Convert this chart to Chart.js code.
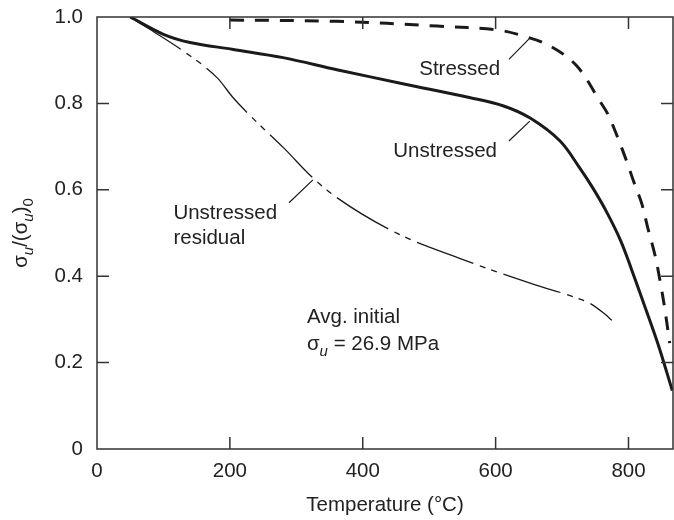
<!DOCTYPE html>
<html>
<head>
<meta charset="utf-8">
<title>Strength vs temperature</title>
<script src="https://cdn.jsdelivr.net/npm/chart.js@4"></script>
<style>
  html, body { margin: 0; padding: 0; background: #fff; }
  #wrap { width: 674px; height: 520px; }
</style>
</head>
<body>
<div id="wrap"><canvas id="chart" width="674" height="520"></canvas></div>
<script>
// ---- data ----
const unstressedT   = [50, 100, 140, 205, 280, 361, 462, 562, 612, 652, 697, 726, 746, 767, 788, 805, 825, 845, 866];
const unstressedVal = [1.0, 0.96, 0.941, 0.925, 0.906, 0.878, 0.845, 0.813, 0.794, 0.766, 0.713, 0.652, 0.605, 0.549, 0.483, 0.414, 0.328, 0.24, 0.135];

const stressedT   = [200, 361, 512, 602, 642, 682, 722, 757, 769, 784, 797, 809, 820, 829, 840, 848, 855, 862];
const stressedVal = [0.993, 0.99, 0.979, 0.970, 0.956, 0.933, 0.887, 0.805, 0.775, 0.72, 0.667, 0.614, 0.568, 0.512, 0.448, 0.385, 0.321, 0.245];

const residualT   = [50, 80, 130, 181, 205, 231, 281, 326, 361, 452, 552, 587, 662, 712, 742, 763, 775];
const residualVal = [1.0, 0.971, 0.921, 0.859, 0.813, 0.771, 0.697, 0.626, 0.582, 0.499, 0.438, 0.418, 0.379, 0.355, 0.337, 0.314, 0.298];

const xTicks = [0, 200, 400, 600, 800];
const yTicks = [0, 0.2, 0.4, 0.6, 0.8, 1.0];

const FONT = '"Liberation Sans", Arial, sans-serif';
const INK = '#1a1a1a';
const TXT = '#222';

function pts(xs, ys) {
  return xs.map((x, i) => ({ x: x, y: ys[i] }));
}

// labels and leader lines, placed in data units
const notes = [
  { text: 'Stressed',   x: 485, y: 0.879 },
  { text: 'Unstressed', x: 446, y: 0.688 },
  { text: 'Unstressed', x: 115, y: 0.545 },
  { text: 'residual',   x: 115, y: 0.487 },
  { text: 'Avg. initial', x: 316, y: 0.305 }
];
const leaders = [
  [620, 0.902, 651.5, 0.951],
  [620, 0.713, 651.5, 0.759],
  [289, 0.570, 325, 0.623]
];

// draw a run of [text, style] pieces; style: n normal, s italic subscript, z normal subscript
function drawRich(ctx, parts, x, y, size, align) {
  const big = size + 'px ' + FONT;
  const sub = 'italic ' + Math.round(size * 0.75) + 'px ' + FONT;
  const sub0 = Math.round(size * 0.75) + 'px ' + FONT;
  const fontOf = p => p[1] === 'n' ? big : (p[1] === 's' ? sub : sub0);
  let w = 0;
  parts.forEach(p => { ctx.font = fontOf(p); w += ctx.measureText(p[0]).width; });
  let cx = align === 'center' ? x - w / 2 : x;
  ctx.textAlign = 'left';
  ctx.textBaseline = 'alphabetic';
  parts.forEach(p => {
    ctx.font = fontOf(p);
    const dy = p[1] === 'n' ? 0 : size * 0.28;
    ctx.fillText(p[0], cx, y + dy);
    cx += ctx.measureText(p[0]).width;
  });
}

const decor = {
  id: 'decor',
  afterDraw(chart) {
    const { ctx, chartArea: a, scales } = chart;
    const sx = scales.x, sy = scales.y;
    ctx.save();

    // frame
    ctx.strokeStyle = '#333';
    ctx.lineWidth = 1.5;
    ctx.strokeRect(a.left, a.top, a.right - a.left, a.bottom - a.top);

    // inward ticks on all four sides
    const tl = 12;
    ctx.beginPath();
    sx.ticks.forEach(t => {
      if (t.value === 0) return;
      const px = sx.getPixelForValue(t.value);
      ctx.moveTo(px, a.bottom); ctx.lineTo(px, a.bottom - tl);
      ctx.moveTo(px, a.top);    ctx.lineTo(px, a.top + tl);
    });
    sy.ticks.forEach(t => {
      if (t.value === 0 || t.value === 1) return;
      const py = sy.getPixelForValue(t.value);
      ctx.moveTo(a.left, py);  ctx.lineTo(a.left + tl, py);
      ctx.moveTo(a.right, py); ctx.lineTo(a.right - tl, py);
    });
    ctx.stroke();

    // leader lines
    ctx.strokeStyle = INK;
    ctx.lineWidth = 1.2;
    ctx.beginPath();
    leaders.forEach(l => {
      ctx.moveTo(sx.getPixelForValue(l[0]), sy.getPixelForValue(l[1]));
      ctx.lineTo(sx.getPixelForValue(l[2]), sy.getPixelForValue(l[3]));
    });
    ctx.stroke();

    // notes
    ctx.fillStyle = TXT;
    ctx.font = '20.5px ' + FONT;
    ctx.textAlign = 'left';
    ctx.textBaseline = 'middle';
    notes.forEach(n => ctx.fillText(n.text, sx.getPixelForValue(n.x), sy.getPixelForValue(n.y)));
    drawRich(ctx, [['σ', 'n'], ['u', 's'], [' = 26.9 MPa', 'n']],
      sx.getPixelForValue(316), sy.getPixelForValue(0.245) + 7, 20.5, 'left');

    // axis titles
    ctx.font = '20.5px ' + FONT;
    ctx.textAlign = 'center';
    ctx.textBaseline = 'middle';
    ctx.fillText('Temperature (°C)', (a.left + a.right) / 2, 505);

    ctx.translate(27, (a.top + a.bottom) / 2);
    ctx.rotate(-Math.PI / 2);
    drawRich(ctx, [['σ', 'n'], ['u', 's'], ['/(σ', 'n'], ['u', 's'], [')', 'n'], ['0', 'z']], 0, 0, 20.5, 'center');
    ctx.restore();
  }
};

new Chart(document.getElementById('chart'), {
  type: 'line',
  data: {
    datasets: [
      {
        label: 'Unstressed',
        data: pts(unstressedT, unstressedVal),
        borderColor: INK,
        borderWidth: 3,
        pointRadius: 0,
        tension: 0.35,
        fill: false
      },
      {
        label: 'Stressed',
        data: pts(stressedT, stressedVal),
        borderColor: INK,
        borderWidth: 3,
        borderDash: [14, 11],
        pointRadius: 0,
        tension: 0.35,
        fill: false
      },
      {
        label: 'Unstressed residual',
        data: pts(residualT, residualVal),
        borderColor: INK,
        borderWidth: 1.3,
        borderDash: [60, 7, 6, 6, 6, 7],
        pointRadius: 0,
        cubicInterpolationMode: 'monotone',
        fill: false
      }
    ]
  },
  options: {
    responsive: false,
    animation: false,
    devicePixelRatio: 1,
    layout: { padding: { top: 17, right: 1, left: 0, bottom: 0 } },
    plugins: { legend: { display: false }, tooltip: { enabled: false } },
    scales: {
      x: {
        type: 'linear',
        min: 0,
        max: 867,
        grid: { display: false, drawTicks: false },
        border: { display: false },
        afterBuildTicks: s => { s.ticks = xTicks.map(v => ({ value: v })); },
        afterFit: s => { s.height = 71; s.paddingLeft = 0; s.paddingRight = 0; },
        ticks: {
          padding: 10,
          color: TXT,
          font: { family: FONT, size: 20.5 },
          maxRotation: 0
        }
      },
      y: {
        min: 0,
        max: 1,
        grid: { display: false, drawTicks: false },
        border: { display: false },
        afterBuildTicks: s => { s.ticks = yTicks.map(v => ({ value: v })); },
        afterFit: s => { s.width = 97; s.paddingTop = 0; s.paddingBottom = 0; },
        ticks: {
          padding: 14,
          color: TXT,
          font: { family: FONT, size: 20.5 },
          callback: v => v === 0 ? '0' : v.toFixed(1)
        }
      }
    }
  },
  plugins: [decor]
});
</script>
</body>
</html>
